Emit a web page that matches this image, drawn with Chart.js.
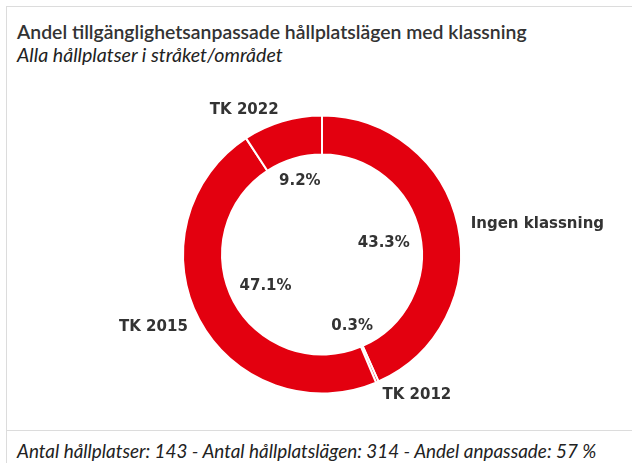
<!DOCTYPE html>
<html>
<head>
<meta charset="utf-8">
<script src="https://cdn.jsdelivr.net/npm/chart.js@4"></script>
<style>
  html, body { margin: 0; padding: 0; background: #fff; }
  body { width: 632px; height: 463px; position: relative; overflow: hidden; }
  #panel { position: absolute; left: 6px; top: 6px; width: 700px; height: 500px; border: 1px solid #dcdcdc; box-sizing: border-box; }
  #sep { position: absolute; left: 6px; top: 430px; width: 626px; height: 1px; background: #dcdcdc; }
  .txt { position: absolute; left: 17px; font-family: "Lato", sans-serif; line-height: 19px; white-space: nowrap; }
  #title { top: 22px; font-size: 19.4px; font-weight: 600; color: #333; }
  #subtitle { top: 45px; font-size: 19.6px; font-style: italic; color: #222; }
  #footer { top: 441px; font-size: 18.9px; font-style: italic; color: #222; }
  #c { position: absolute; left: 0; top: 0; }
</style>
</head>
<body>
<div id="panel"></div>
<div id="sep"></div>
<div class="txt" id="title">Andel tillgänglighetsanpassade hållplatslägen med klassning</div>
<div class="txt" id="subtitle">Alla hållplatser i stråket/området</div>
<div class="txt" id="footer">Antal hållplatser: 143 - Antal hållplatslägen: 314 - Andel anpassade: 57 %</div>
<canvas id="c" width="632" height="463"></canvas>
<script>
const categories = ['Ingen klassning', 'TK 2012', 'TK 2015', 'TK 2022'];
const shares = [43.3, 0.3, 47.1, 9.2];

const RED = 'rgb(227,0,15)';
const LABEL_COLOR = '#333';
const LABEL_FONT = 'bold 15px "DejaVu Sans", sans-serif';

const donutLabels = {
  id: 'donutLabels',
  afterDatasetsDraw(chart) {
    const ctx = chart.ctx;
    const meta = chart.getDatasetMeta(0);
    ctx.save();
    ctx.font = LABEL_FONT;
    ctx.fillStyle = LABEL_COLOR;
    ctx.textBaseline = 'alphabetic';
    const capHalf = 5.5;
    meta.data.forEach((arc, i) => {
      const p = arc.getProps(['x', 'y', 'startAngle', 'endAngle', 'innerRadius', 'outerRadius'], true);
      const a = (p.startAngle + p.endAngle) / 2;
      const cx = Math.cos(a), sy = Math.sin(a);
      // outer category label
      const ro = p.outerRadius + 13;
      const ox = p.x + cx * ro, oy = p.y + sy * ro;
      ctx.textAlign = cx >= 0 ? 'left' : 'right';
      ctx.fillText(categories[i], ox, oy + capHalf);
      // inner percentage label
      const txt = shares[i].toFixed(1) + '%';
      const hw = ctx.measureText(txt).width / 2;
      const hh = 6.5;
      const ri = p.innerRadius - 10 - (hw * Math.abs(cx) + hh * Math.abs(sy));
      ctx.textAlign = 'center';
      ctx.fillText(txt, p.x + cx * ri, p.y + sy * ri + capHalf);
    });
    ctx.restore();
  }
};

new Chart(document.getElementById('c'), {
  type: 'doughnut',
  data: {
    labels: categories,
    datasets: [{
      data: shares,
      backgroundColor: RED,
      hoverBackgroundColor: RED,
      borderColor: '#fff',
      borderWidth: 2
    }]
  },
  options: {
    responsive: false,
    animation: false,
    radius: 139,
    cutout: '71.94%',
    layout: { padding: { left: 172, right: 160, top: 104.5, bottom: 58.5 } },
    plugins: {
      legend: { display: false },
      tooltip: { enabled: false }
    }
  },
  plugins: [donutLabels]
});
</script>
</body>
</html>
